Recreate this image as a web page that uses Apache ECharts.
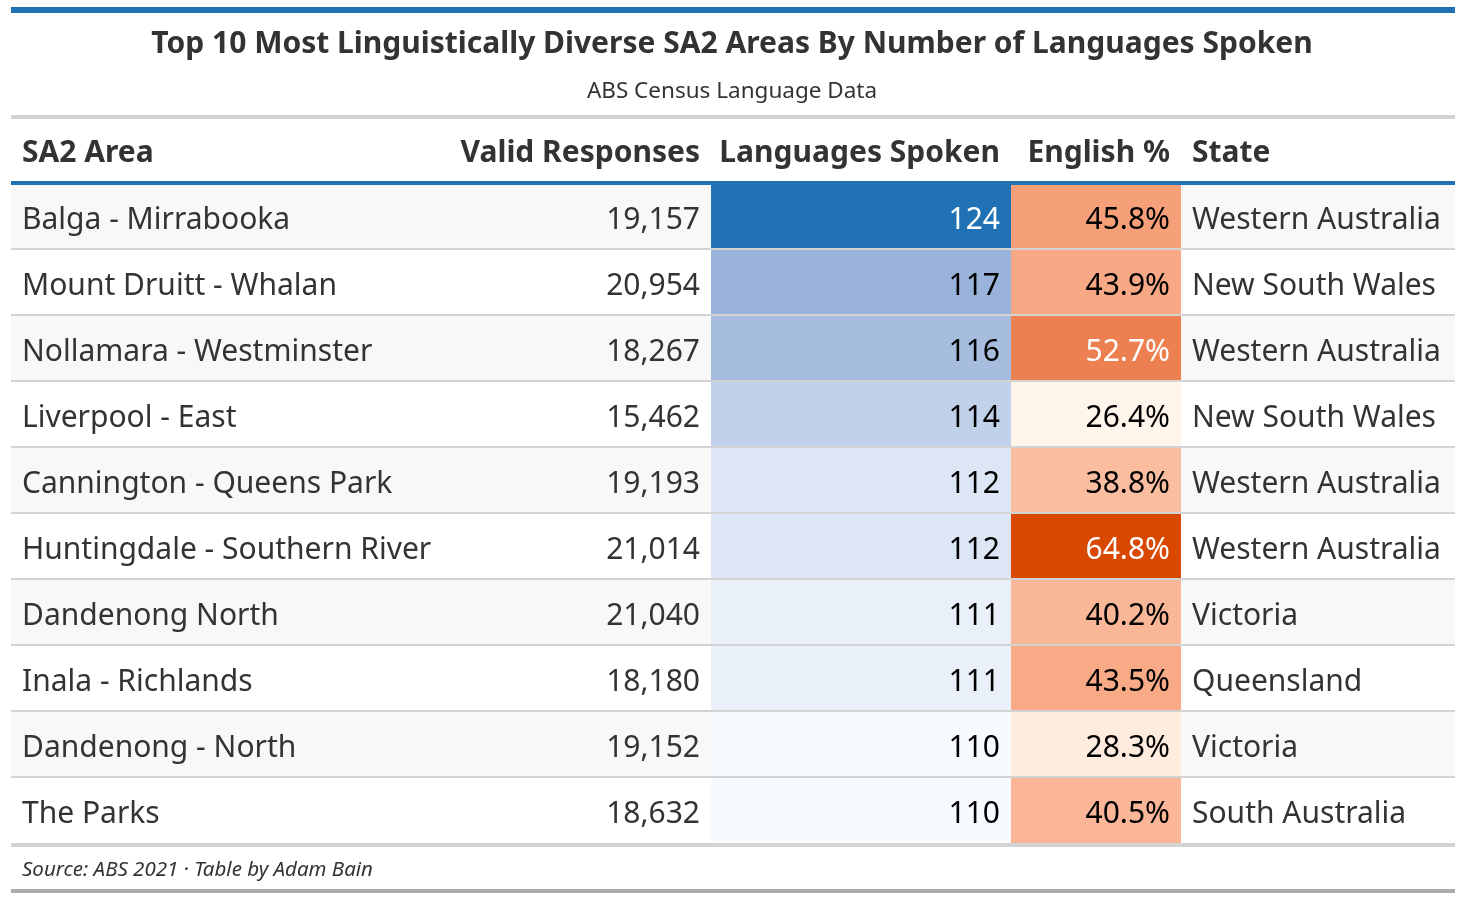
<!DOCTYPE html>
<html>
<head>
<meta charset="utf-8">
<title>Top 10 Most Linguistically Diverse SA2 Areas</title>
<script src="https://cdn.jsdelivr.net/npm/echarts@6/dist/echarts.min.js"></script>
<style>
    html, body { margin: 0; padding: 0; background: #fff; }
    #main { width: 1464px; height: 900px; }
</style>
</head>
<body>
<div id="main"></div>
<script>
// ---- data ----
var headers = ['SA2 Area', 'Valid Responses', 'Languages Spoken', 'English %', 'State'];
var areas = ['Balga - Mirrabooka', 'Mount Druitt - Whalan', 'Nollamara - Westminster', 'Liverpool - East',
    'Cannington - Queens Park', 'Huntingdale - Southern River', 'Dandenong North', 'Inala - Richlands',
    'Dandenong - North', 'The Parks'];
var responses = [19157, 20954, 18267, 15462, 19193, 21014, 21040, 18180, 19152, 18632];
var languages = [124, 117, 116, 114, 112, 112, 111, 111, 110, 110];
var englishPct = [45.8, 43.9, 52.7, 26.4, 38.8, 64.8, 40.2, 43.5, 28.3, 40.5];
var states = ['Western Australia', 'New South Wales', 'Western Australia', 'New South Wales', 'Western Australia',
    'Western Australia', 'Victoria', 'Queensland', 'Victoria', 'South Australia'];

// ---- layout / style ----
var FONT = '"Noto Sans", sans-serif';
var TEXT = '#333333';
var colLeft = [11, 447, 711, 1011, 1181];
var colWidth = [436, 264, 300, 170, 274];
var tableLeft = 11, tableWidth = 1444;
var tableTop = 183, rowH = 66;
var pad = 11;
var bodySize = 30;

var columns = [
    { values: areas, align: 'left', fmt: function (v) { return v; } },
    { values: responses, align: 'right', fmt: function (v) { return v.toLocaleString('en-US'); } },
    { values: languages, align: 'right', fill: true, fmt: function (v) { return String(v); } },
    { values: englishPct, align: 'right', fill: true, fmt: function (v) { return v.toFixed(1) + '%'; } },
    { values: states, align: 'left', fmt: function (v) { return v; } }
];

function luminance(c) {
    var p = echarts.color.parse(c);
    var ch = [p[0], p[1], p[2]].map(function (v) {
        v = v / 255;
        return v <= 0.03928 ? v / 12.92 : Math.pow((v + 0.055) / 1.055, 2.4);
    });
    return 0.2126 * ch[0] + 0.7152 * ch[1] + 0.0722 * ch[2];
}

function cellBox(api) {
    var c = api.coord([0, api.value(1)]);
    var s = api.size([1, 1]);
    return { x: c[0] - s[0] / 2, y: c[1] - s[1] / 2, w: s[0], h: s[1], cy: c[1] };
}

var grids = [], xAxes = [], yAxes = [], series = [];
columns.forEach(function (col, c) {
    grids.push({ left: colLeft[c], width: colWidth[c], top: tableTop, height: rowH * areas.length });
    xAxes.push({ type: 'category', gridIndex: c, data: [headers[c]], show: false });
    yAxes.push({ type: 'category', gridIndex: c, data: areas, inverse: true, show: false });
    series.push({
        type: 'custom',
        name: headers[c],
        xAxisIndex: c,
        yAxisIndex: c,
        z: 3,
        data: col.values.map(function (v, i) { return col.fill ? [0, i, v] : [0, i]; }),
        renderItem: function (params, api) {
            var b = cellBox(api);
            var v = col.values[params.dataIndex];
            var children = [];
            var textColor = TEXT;
            if (col.fill) {
                var fill = api.visual('color');
                children.push({ type: 'rect', shape: { x: b.x, y: b.y, width: b.w, height: b.h }, style: { fill: fill } });
                textColor = luminance(fill) < 0.4 ? '#ffffff' : '#000000';
            }
            children.push({
                type: 'text',
                style: {
                    text: col.fmt(v),
                    x: col.align === 'left' ? b.x + pad : b.x + b.w - pad,
                    y: b.cy + 4,
                    align: col.align,
                    verticalAlign: 'middle',
                    fontFamily: FONT,
                    fontSize: bodySize,
                    fill: textColor
                }
            });
            return { type: 'group', children: children };
        }
    });
});

// full-width grid for row stripes and rules
var g = columns.length;
grids.push({ left: tableLeft, width: tableWidth, top: tableTop, height: rowH * areas.length });
xAxes.push({ type: 'category', gridIndex: g, data: ['row'], show: false });
yAxes.push({ type: 'category', gridIndex: g, data: areas, inverse: true, show: false });
series.push({
    type: 'custom',
    name: 'stripes',
    xAxisIndex: g,
    yAxisIndex: g,
    z: 1,
    silent: true,
    data: areas.map(function (d, i) { return [0, i]; }),
    renderItem: function (params, api) {
        var b = cellBox(api);
        return {
            type: 'rect',
            shape: { x: b.x, y: b.y, width: b.w, height: b.h },
            style: { fill: params.dataIndex % 2 === 0 ? '#f8f8f8' : '#ffffff' }
        };
    }
});
series.push({
    type: 'custom',
    name: 'rules',
    xAxisIndex: g,
    yAxisIndex: g,
    z: 10,
    silent: true,
    data: areas.map(function (d, i) { return [0, i]; }),
    renderItem: function (params, api) {
        var b = cellBox(api);
        var last = params.dataIndex === areas.length - 1;
        var yy = b.y + b.h + (last ? 2 : 0);
        return {
            type: 'line',
            shape: { x1: b.x, y1: yy, x2: b.x + b.w, y2: yy },
            style: { stroke: '#d3d3d3', lineWidth: last ? 4 : 2 }
        };
    }
});

var graphics = [
    { type: 'rect', z: 100, shape: { x: tableLeft, y: 7, width: tableWidth, height: 6 }, style: { fill: '#2171b5' } },
    { type: 'rect', z: 100, shape: { x: tableLeft, y: 115, width: tableWidth, height: 4 }, style: { fill: '#d3d3d3' } },
    { type: 'rect', z: 100, shape: { x: tableLeft, y: tableTop - 2, width: tableWidth, height: 4 }, style: { fill: '#2171b5' } },
    { type: 'rect', z: 100, shape: { x: tableLeft, y: 889, width: tableWidth, height: 4 }, style: { fill: '#acacac' } },
    {
        type: 'text', z: 100,
        style: {
            text: 'Source: ABS 2021 \u00b7 Table by Adam Bain', x: tableLeft + pad, y: 870,
            verticalAlign: 'middle', fontFamily: FONT, fontSize: 20.5, fontStyle: 'italic', fill: TEXT
        }
    }
];
columns.forEach(function (col, c) {
    graphics.push({
        type: 'text', z: 100,
        style: {
            text: headers[c],
            x: col.align === 'left' ? colLeft[c] + pad : colLeft[c] + colWidth[c] - pad,
            y: 153,
            align: col.align,
            verticalAlign: 'middle',
            fontFamily: FONT,
            fontSize: 30,
            fontWeight: 'bold',
            fill: TEXT
        }
    });
});

var myChart = echarts.init(document.getElementById('main'));
var option = {
    backgroundColor: '#ffffff',
    animation: false,
    title: {
        text: 'Top 10 Most Linguistically Diverse SA2 Areas By Number of Languages Spoken',
        subtext: 'ABS Census Language Data',
        left: 'center',
        top: 23,
        itemGap: 20,
        textStyle: { fontFamily: FONT, fontSize: 30, fontWeight: 'bold', color: TEXT, lineHeight: 32 },
        subtextStyle: { fontFamily: FONT, fontSize: 22.5, color: TEXT, lineHeight: 24 }
    },
    grid: grids,
    xAxis: xAxes,
    yAxis: yAxes,
    visualMap: [
        {
            type: 'continuous', show: false, seriesIndex: 2, dimension: 2,
            min: Math.min.apply(null, languages), max: Math.max.apply(null, languages),
            inRange: { color: ['#f7fbff', '#c8d6eb', '#99b3da', '#6291c8', '#2171b5'] }
        },
        {
            type: 'continuous', show: false, seriesIndex: 3, dimension: 2,
            min: Math.min.apply(null, englishPct), max: Math.max.apply(null, englishPct),
            inRange: { color: ['#fff5eb', '#fdc8ae', '#f6a17b', '#ea7542', '#d94801'] }
        }
    ],
    graphic: graphics,
    series: series
};
myChart.setOption(option);
</script>
</body>
</html>
